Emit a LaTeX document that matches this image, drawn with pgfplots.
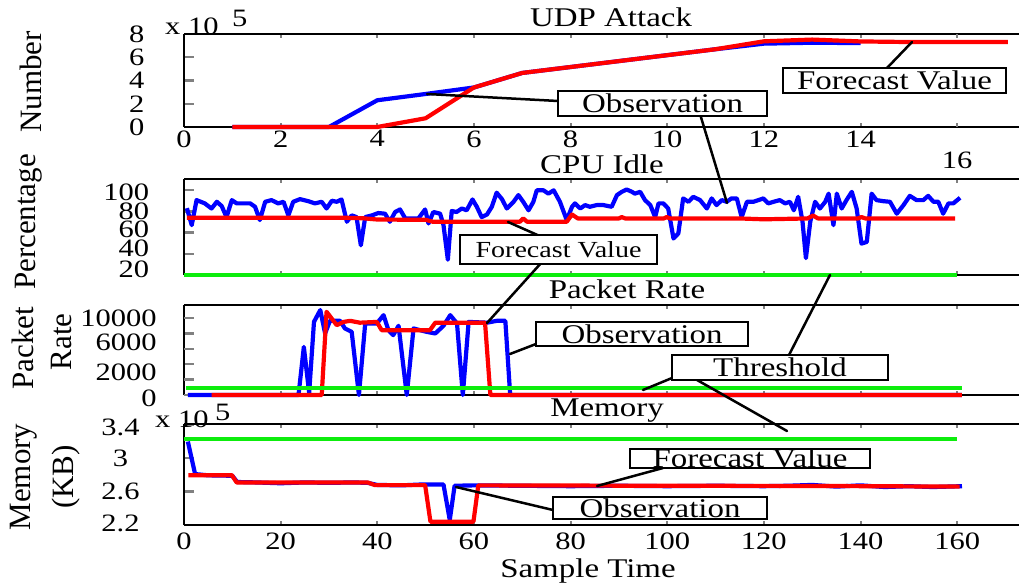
\documentclass[border=0pt]{standalone}
\usepackage{pgfplots}
\pgfplotsset{compat=1.18}
\usepackage{fontspec}
\setmainfont{Liberation Serif}
\definecolor{obsblue}{rgb}{0,0,1}
\definecolor{fcred}{rgb}{1,0,0}
\definecolor{thrgreen}{rgb}{0.05,0.93,0.05}

% shift a tick label vertically without changing its box
\newcommand{\up}[2]{\raisebox{#1}[\height][\depth]{#2}}

\pgfplotsset{
  panel/.style={
    scale only axis, width=835pt, anchor=south west,
    axis y line*=left,
    axis line style={line width=2.6pt,-},
    tick align=inside,
    xtick style={line width=2pt,/pgfplots/major tick length=4pt},
    ytick style={line width=2.4pt,/pgfplots/major tick length=10pt},
    tick label style={font=\fontsize{25}{25}\selectfont, xscale=1.22},
    /pgf/number format/assume math mode=true,
    scaled y ticks=false,
    clip=false,
  },
  obs/.style={color=obsblue, line width=4.2pt, line join=round, mark=none},
  fc/.style={color=fcred, line width=4.2pt, line join=round, mark=none},
  thr/.style={color=thrgreen, line width=4pt, mark=none},
}
\tikzset{
  lbl/.style={font=\fontsize{27}{27}\selectfont, xscale=1.22, inner sep=0pt},
  slbl/.style={font=\fontsize{23}{23}\selectfont, xscale=1.22, inner sep=0pt},
  ylab/.style={font=\fontsize{31}{31}\selectfont, rotate=90, inner sep=0pt},
  box/.style={draw=black, line width=1.6pt, fill=white},
  pointer/.style={draw=black, line width=2.5pt, line cap=round},
}

\begin{document}
\begin{tikzpicture}[x=1pt,y=1pt]
\useasboundingbox (0,0) rectangle (1019,584);

% ---------------- UDP Attack ----------------
\begin{axis}[panel, at={(184pt,457pt)}, height=93pt,
  xmin=0, xmax=17.28, ymin=0, ymax=800000,
  xtick={0,2,4,6,8,10,12,14}, xticklabels={0,2,4,6,8,10,12,14},
  extra x ticks={16}, extra x tick labels={16},
  extra x tick style={tick label style={yshift=-21pt}},
  ytick={0,200000,400000,600000,800000}, yticklabels={0,2,4,6,8},
  yticklabel style={xshift=-29pt}]
\addplot[obs] coordinates {(1,0) (2,0) (3,0) (4,230000) (5,284000) (6,340000)
  (7,465000) (8,516000) (9,567000) (10,618000) (11,669000) (12,717000) (13,725000) (14,722000)};
\addplot[fc] coordinates {(1,0) (2,0) (3,0) (4,0) (5,75000) (6,340000) (7,465000)
  (8,516000) (9,567000) (10,618000) (11,669000) (12,737000) (13,752000) (14,736000)
  (15,731000) (16,731000) (17.05,731000)};
\end{axis}

% ---------------- CPU Idle ----------------
\begin{axis}[panel, at={(184pt,309pt)}, height=96pt,
  xmin=0, xmax=172.8, ymin=20, ymax=110.5,
  xtick={0,20,40,60,80,100,120,140,160}, xticklabels={},
  ytick={20,40,60,80,100},
  yticklabels={\up{6pt}{20},\up{5pt}{40},\up{3pt}{60},80,\up{-2pt}{100}},
  yticklabel style={xshift=-25pt}]
\addplot[obs] coordinates {(0.6,83) (1.6,67) (2.6,90.6) (4.3,87.5) (5.7,82.7) (6.8,89)
  (7.8,85) (8.8,74.6) (9.9,90.6) (10.9,87.5) (13.7,87.5) (14.7,84.3) (15.7,71.8) (16.8,89)
  (18.1,90.6) (19.5,87.5) (20.6,89) (21.6,76.2) (22.6,89) (24,91.5) (25.7,89.6) (27.1,87.5)
  (28.5,89) (29.5,82.7) (30.6,90) (31.6,89) (32.6,91.2) (33.7,70.2) (34.7,76.2) (35.7,74.6)
  (36.6,48) (37.5,74.6) (38.9,76.2) (40.2,78.4) (41.6,77.8) (42.6,70.2) (43.7,79.4) (44.7,81.8)
  (45.8,73.3) (47.1,73.3) (48.5,73.3) (49.9,81.8) (50.6,68.6) (51.6,79.4) (53,77.8) (53.7,67)
  (54.6,34.4) (55.4,80.3) (56.4,79.4) (57.5,82.7) (58.5,81) (59.7,91.2) (60.6,84.3) (61.6,74.6)
  (62.7,77) (63.7,84.3) (64.7,97.6) (65.8,91.5) (66.8,82.7) (68.2,89) (69.2,95.3) (70.2,89)
  (71.3,81) (72.3,89) (73,99.8) (74.4,99.8) (75.4,96.7) (76.5,99.8) (77.8,89) (79.2,71.8)
  (80.3,84.3) (80.9,87.5) (82,82.7) (83,85.9) (84,84.3) (85.4,85.9) (86.8,85.9) (88.5,84.3)
  (89.6,95.3) (90.6,98.4) (91.6,100.6) (92.7,98.4) (93.3,96.7) (94.4,98.4) (95.4,90.6)
  (96.5,85.9) (97.5,74.6) (98.2,87.5) (99.2,87.5) (100.2,82.7) (101.3,54.4) (102.3,59.2)
  (103.3,92.2) (104.4,89) (105.4,93.7) (106.8,90.6) (108.2,82.7) (109.2,92.2) (110.2,85.9)
  (111.3,90.6) (112.3,89) (113.3,92.2) (114.4,92.2) (115.4,74.6) (116.5,89) (117.8,89)
  (118.9,90.6) (119.9,92.2) (120.9,87.5) (122,89) (123.3,90.6) (124.4,87.5) (125.4,89)
  (126.2,81) (127.1,93.7) (128,70.2) (128.7,35.9) (129.6,70.2) (130.6,89) (131.6,82.7)
  (132.7,89) (133.4,96.7) (134.4,67) (135.1,96.7) (136.1,82.7) (137.1,90.6) (138.2,98.4)
  (139.2,82.7) (140.2,49.6) (141.3,51.2) (142.3,96.7) (143.3,90.6) (144.7,89.6) (146.1,89)
  (147.5,77.8) (148.9,85.9) (150.2,94.6) (151.6,90.6) (153,90.6) (154,94.6) (155.1,89)
  (156.1,89) (157.1,77.8) (158.2,87.5) (159.2,87.5) (160.6,92.8)};
\addplot[fc] coordinates {(0.6,74) (33,74) (37,73.5) (40,72.3) (50,72) (51.5,70.2)
  (69.5,70.2) (70.2,73.3) (71,70.2) (79.2,70.2) (80.3,77) (81.5,73.3) (90,73.3) (90.6,74.6)
  (91.3,73.3) (99.3,73.3) (99.9,74.6) (100.6,73.3) (115,73.3) (120,72.5) (129,73.3)
  (130.2,76) (131.2,73.3) (139.5,73.3) (140.2,74.6) (141,73.3) (159.6,73.3)};
\addplot[thr] coordinates {(0,20) (160,20)};
\end{axis}

% ---------------- Packet Rate ----------------
\begin{axis}[panel, at={(184pt,189pt)}, height=90pt,
  xmin=0, xmax=172.8, ymin=0, ymax=11700,
  xtick={0,20,40,60,80,100,120,140,160}, xticklabels={},
  ytick={0,4000,8000}, yticklabels={},
  extra y ticks={0,2000,6000,10000},
  extra y tick labels={\up{-3pt}{0},\up{7pt}{2000},\up{7pt}{6000},10000},
  extra y tick style={/pgfplots/major tick length=0pt},
  yticklabel style={xshift=-19pt}]
\addplot[obs] coordinates {(0.8,0) (23.7,0) (24.8,6250) (25.9,300) (26.9,9510) (28.2,11040)
  (29.2,8000) (30.2,9640) (32.3,9640) (33.3,8650) (34.7,8210) (36.2,0) (37.5,9300) (39.9,9300)
  (41.3,10380) (42.3,8430) (43.3,7780) (44.4,9000) (46.1,0) (47.5,8650) (50.2,8210) (52,8000)
  (53.7,9000) (55.1,10380) (56.5,9300) (57.7,0) (58.9,9500) (62.7,9400) (64.7,9640)
  (66.5,9640) (67.5,0) (161,0)};
\addplot[fc] coordinates {(5.7,0) (28.5,0) (29.5,10820) (31.6,9080) (33,9500) (34.4,9640)
  (36.4,9400) (39.9,9500) (40.9,8430) (50.9,8430) (52,9400) (62.3,9400) (63.4,0) (161,0)};
\addplot[thr] coordinates {(0.4,850) (161,850)};
\end{axis}

% ---------------- Memory ----------------
\begin{axis}[panel, at={(184pt,59pt)}, height=101pt,
  xmin=0, xmax=172.8, ymin=220000, ymax=341000,
  xtick={0,20,40,60,80,100,120,140,160},
  xticklabels={0,20,40,60,80,100,120,140,160},
  xticklabel style={yshift=-4pt},
  ytick={220000,260000,300000,340000},
  yticklabels={\up{2pt}{2.2},2.6,3,\up{-3pt}{3.4}},
  yticklabel style={anchor=center, xshift=-52pt}]
\addplot[obs] coordinates {(0.8,320000) (2.3,281000) (5,279500) (10,279000) (11,271500)
  (15,271000) (20,270000) (25,271000) (30,270500) (35,271000) (38,270500) (40,268000)
  (45,267500) (49,268500) (53.7,268500) (55,226000) (56,267000) (60,267500) (70,267000)
  (80,266500) (90,267000) (100,266500) (110,267000) (120,266500) (125,267000) (130,268000)
  (135,266000) (140,267500) (145,265500) (150,266500) (155,265500) (161,266500)};
\addplot[fc] coordinates {(0.9,279700) (9.9,279700) (10.9,271000) (38,271000) (39.5,267800)
  (49.9,267800) (51,224000) (59.9,224000) (60.9,267500) (100,267000) (130,266800)
  (160.5,266000)};
\addplot[thr] coordinates {(0,322700) (160,322700)};
\end{axis}

% ---------------- scale labels ----------------
\node[font=\fontsize{25}{25}\selectfont, xscale=1.22, inner sep=0pt, anchor=base west] at (165,549) {x 10};
\node[font=\fontsize{25}{25}\selectfont, xscale=1.22, inner sep=0pt, anchor=base west] at (232,557) {5};
\node[font=\fontsize{25}{25}\selectfont, xscale=1.22, inner sep=0pt, anchor=base west] at (155,157) {x 10};
\node[font=\fontsize{25}{25}\selectfont, xscale=1.22, inner sep=0pt, anchor=base west] at (215,164) {5};

% ---------------- titles ----------------
\node[lbl, anchor=base] at (611,557) {UDP Attack};
\node[lbl, anchor=base] at (602,410.7) {CPU Idle};
\node[lbl, anchor=base] at (627,285.7) {Packet Rate};
\node[lbl, anchor=base] at (607,167.3) {Memory};
\node[lbl, anchor=base] at (588,7) {Sample Time};

% ---------------- axis labels ----------------
\node[ylab] at (31,502) {Number};
\node[ylab] at (29,362) {Percentage};
\node[ylab] at (23,236) {Packet};
\node[ylab] at (62,242) {Rate};
\node[ylab] at (24,107) {Memory};
\node[ylab] at (66,107) {(KB)};

% ---------------- callouts ----------------
\draw[pointer] (887,516) -- (912,542);
\draw[pointer] (558,483) -- (427,490);
\draw[pointer] (700,470) -- (727,381);
\draw[pointer] (542,347) -- (508,362);
\draw[pointer] (542,322) -- (487,261);
\draw[pointer] (536,240) -- (510,230);
\draw[pointer] (789,229) -- (830,309);
\draw[pointer] (672,206) -- (643,194);
\draw[pointer] (697,204) -- (787,153);
\draw[pointer] (663,116) -- (597,98);
\draw[pointer] (553,74) -- (456,97);

\draw[box] (783,491) rectangle (1006,516);
\node[lbl] at (894.5,503.5) {Forecast Value};
\draw[box] (558,468) rectangle (767,493);
\node[lbl] at (662.5,480.5) {Observation};
\draw[box] (460,320) rectangle (657,349);
\node[slbl] at (558.5,334.5) {Forecast Value};
\draw[box] (536,238) rectangle (748,262);
\node[lbl] at (642,250) {Observation};
\draw[box] (672,204) rectangle (888,229);
\node[lbl] at (780,216.5) {Threshold};
\draw[box] (630,116) rectangle (870,135);
\node[lbl] at (750,125.5) {Forecast Value};
\draw[box] (553,65) rectangle (767,87);
\node[lbl] at (660,76) {Observation};
\end{tikzpicture}
\end{document}
